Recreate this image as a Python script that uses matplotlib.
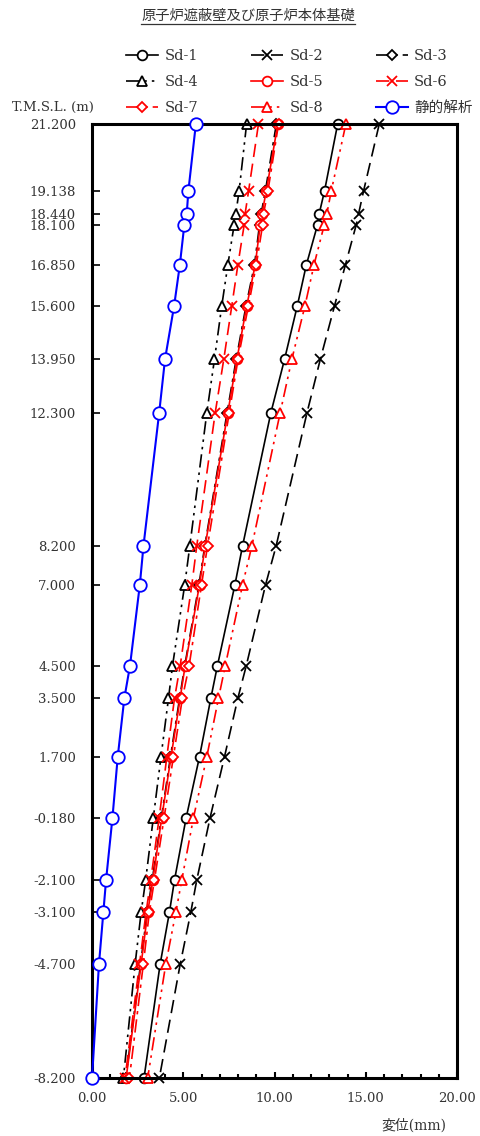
import matplotlib
matplotlib.use('Agg')
import matplotlib.pyplot as plt
from matplotlib.lines import Line2D
from matplotlib.ticker import MultipleLocator

plt.rcParams['font.family'] = ['DejaVu Serif', 'Noto Sans CJK JP']

# 標高 T.M.S.L. (m)
elev = [21.200, 19.138, 18.440, 18.100, 16.850, 15.600, 13.950, 12.300,
        8.200, 7.000, 4.500, 3.500, 1.700, -0.180, -2.100, -3.100, -4.700, -8.200]

# 変位 (mm)
sd1 = [13.46, 12.74, 12.45, 12.36, 11.74, 11.25, 10.55, 9.80,
       8.25, 7.83, 6.87, 6.51, 5.89, 5.16, 4.52, 4.24, 3.73, 2.85]
sd2 = [15.74, 14.88, 14.61, 14.48, 13.88, 13.29, 12.51, 11.78,
       10.09, 9.51, 8.45, 7.99, 7.26, 6.47, 5.74, 5.41, 4.83, 3.69]
sd3 = [10.10, 9.50, 9.27, 9.18, 8.90, 8.44, 7.90, 7.40,
       6.18, 5.86, 5.08, 4.80, 4.30, 3.80, 3.30, 3.02, 2.66, 1.85]
sd4 = [8.47, 8.06, 7.88, 7.79, 7.44, 7.11, 6.71, 6.29,
       5.36, 5.08, 4.41, 4.19, 3.78, 3.36, 2.94, 2.69, 2.36, 1.72]
sd5 = [10.18, 9.55, 9.31, 9.22, 8.94, 8.48, 7.94, 7.44,
       6.20, 5.89, 5.10, 4.83, 4.33, 3.82, 3.33, 3.05, 2.69, 1.87]
sd6 = [9.12, 8.58, 8.39, 8.34, 7.99, 7.66, 7.22, 6.75,
       5.74, 5.47, 4.83, 4.52, 4.10, 3.68, 3.22, 2.96, 2.60, 1.81]
sd7 = [10.22, 9.64, 9.40, 9.35, 9.00, 8.57, 8.00, 7.52,
       6.33, 6.00, 5.32, 4.95, 4.46, 3.95, 3.42, 3.14, 2.81, 2.05]
sd8 = [13.91, 13.11, 12.87, 12.73, 12.16, 11.67, 10.95, 10.31,
       8.76, 8.25, 7.30, 6.93, 6.29, 5.56, 4.92, 4.59, 4.04, 3.05]
static = [5.69, 5.28, 5.19, 5.06, 4.81, 4.50, 4.00, 3.68,
          2.82, 2.62, 2.08, 1.77, 1.41, 1.12, 0.77, 0.62, 0.38, 0.00]

title = '原子炉遮蔽壁及び原子炉本体基礎'

dash_dot = (0, (8, 3, 2, 3))
dash_dot_dot = (0, (8, 3, 1.5, 3, 1.5, 3))

series = [
    ('Sd-1', sd1, 'black', '-', 'o'),
    ('Sd-2', sd2, 'black', (0, (8, 4)), 'x'),
    ('Sd-3', sd3, 'black', dash_dot, 'D'),
    ('Sd-4', sd4, 'black', dash_dot_dot, '^'),
    ('Sd-5', sd5, 'red', '-', 'o'),
    ('Sd-6', sd6, 'red', (0, (8, 4)), 'x'),
    ('Sd-7', sd7, 'red', dash_dot, 'D'),
    ('Sd-8', sd8, 'red', dash_dot_dot, '^'),
]

fig = plt.figure(figsize=(4.8, 11.36), dpi=100)
ax = fig.add_axes([0.1917, 0.0511, 0.7604, 0.8397])

handles = []
for name, vals, col, ls, mk in series:
    ms = 5.5 if mk == 'D' else 7
    h, = ax.plot(vals, elev, color=col, linestyle=ls, linewidth=1.2,
                 marker=mk, markersize=ms, markerfacecolor='white',
                 markeredgecolor=col, markeredgewidth=1.3, label=name,
                 clip_on=False)
    handles.append(h)

h, = ax.plot(static, elev, color='blue', linestyle='-', linewidth=1.5,
             marker='o', markersize=9, markerfacecolor='white',
             markeredgecolor='blue', markeredgewidth=1.3, label='静的解析',
             clip_on=False, zorder=3)
handles.append(h)

ax.set_xlim(0, 20)
ax.set_ylim(-8.2, 21.2)
ax.set_xticks([0, 5, 10, 15, 20])
ax.xaxis.set_minor_locator(MultipleLocator(1))
ax.set_xticklabels(['%.2f' % v for v in [0, 5, 10, 15, 20]])
ax.set_yticks(elev)
ax.set_yticklabels(['%.3f' % v for v in elev])
ax.tick_params(axis='both', which='both', direction='in', labelsize=9.5,
               colors='black', labelcolor='#333333')
ax.tick_params(axis='y', which='major', length=6, width=1.2, pad=11.5)
ax.tick_params(axis='x', which='major', length=4, width=1.5, pad=10)
ax.tick_params(axis='x', which='minor', length=3, width=1.5)
for sp in ax.spines.values():
    sp.set_linewidth(2.2)

# legend laid out row by row
order = [0, 3, 6, 1, 4, 7, 2, 5, 8]
fig.legend([handles[i] for i in order], [handles[i].get_label() for i in order],
           ncol=3, loc='upper left', bbox_to_anchor=(0.235, 0.968),
           frameon=False, fontsize=10.5, handlelength=2.2, handletextpad=0.45,
           columnspacing=3.6, labelspacing=0.8, labelcolor='#333333')

fig.text(0.025, 0.905, 'T.M.S.L. (m)', fontsize=9.5, color='#333333',
         va='center', ha='left')
fig.text(0.93, 0.003, '変位(mm)', fontsize=10, color='#333333',
         ha='right', va='bottom')

t = fig.text(0.517, 0.986, title, fontsize=10.3, ha='center', va='center',
             color='#333333')
fig.canvas.draw()
bb = t.get_window_extent(fig.canvas.get_renderer()).transformed(fig.transFigure.inverted())
fig.add_artist(Line2D([bb.x0, bb.x1], [bb.y0 - 0.001, bb.y0 - 0.001],
                      color='#333333', linewidth=0.9, transform=fig.transFigure))

fig.savefig('out.png', dpi=100)
